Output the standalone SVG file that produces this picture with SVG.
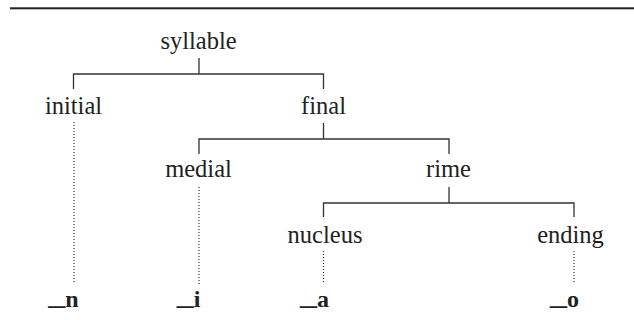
<svg xmlns="http://www.w3.org/2000/svg" width="634" height="320" viewBox="0 0 634 320">
<style>
  text { font-family: 'Liberation Serif', 'Times New Roman', serif; fill: #222; }
  .lbl { font-size: 24.5px; text-anchor: middle; }
  .seg { font-size: 24px; font-weight: bold; }
  .tree { stroke: #333; stroke-width: 1.3; fill: none; }
  .dot { stroke: #333; stroke-width: 1.2; stroke-dasharray: 1 2; fill: none; }
</style>
<rect x="10" y="7.3" width="624" height="2" fill="#222"/>
<g id="connectors">
  <path class="tree" d="M199 58 V74 M73.5 89 V74 H323.5 V89"/>
  <path class="tree" d="M323.5 123 V139 M199 154 V139 H449 V154"/>
  <path class="tree" d="M449 187 V203 M323.5 217 V203 H574 V217"/>
  <path class="dot" d="M74 122 V284"/>
  <path class="dot" d="M199 187 V284"/>
  <path class="dot" d="M323.5 251 V284"/>
  <path class="dot" d="M574 251 V284"/>
</g>
<g id="syllable"><text class="lbl" x="198.5" y="49">syllable</text></g>
<g id="initial"><text class="lbl" x="73.5" y="114">initial</text></g>
<g id="final"><text class="lbl" x="323.5" y="114">final</text></g>
<g id="medial"><text class="lbl" x="198.5" y="177">medial</text></g>
<g id="rime"><text class="lbl" x="448.5" y="177">rime</text></g>
<g id="nucleus"><text class="lbl" x="325" y="243">nucleus</text></g>
<g id="ending"><text class="lbl" x="570.5" y="243">ending</text></g>
<g id="seg-n"><text class="seg" x="48.3" y="307"><tspan dy="-2.5" textLength="17" lengthAdjust="spacingAndGlyphs">_</tspan><tspan dy="2.5">n</tspan></text></g>
<g id="seg-i"><text class="seg" x="176.7" y="307"><tspan dy="-2.5" textLength="17" lengthAdjust="spacingAndGlyphs">_</tspan><tspan dy="2.5">i</tspan></text></g>
<g id="seg-a"><text class="seg" x="300" y="307"><tspan dy="-2.5" textLength="17" lengthAdjust="spacingAndGlyphs">_</tspan><tspan dy="2.5">a</tspan></text></g>
<g id="seg-o"><text class="seg" x="550" y="307"><tspan dy="-2.5" textLength="17" lengthAdjust="spacingAndGlyphs">_</tspan><tspan dy="2.5">o</tspan></text></g>
</svg>
